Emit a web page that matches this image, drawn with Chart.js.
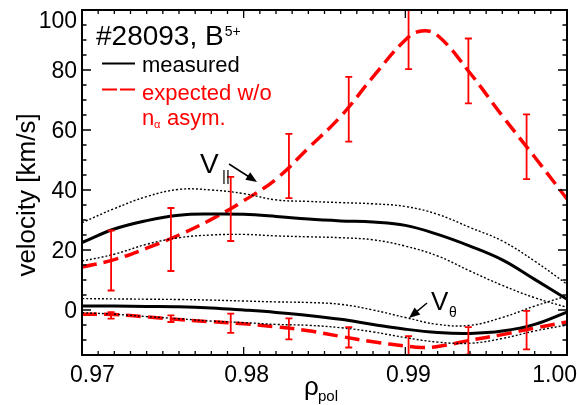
<!DOCTYPE html>
<html>
<head>
<script src="https://cdn.jsdelivr.net/npm/chart.js@4.4.0/dist/chart.umd.min.js"></script>
<style>
  html, body { margin: 0; padding: 0; background: #fff; }
  #wrap { width: 577px; height: 405px; }
</style>
</head>
<body>
<div id="wrap"><canvas id="velChart"></canvas></div>
<script>
// rho_pol grid of the measured profiles
var rhoGrid = [0.970, 0.972, 0.974, 0.976, 0.978, 0.980, 0.982, 0.984, 0.986, 0.988, 0.990, 0.992, 0.994, 0.996, 0.998, 1.000];

// measured v_par (solid) and its uncertainty band (dotted)
var vParMeas = [22.5, 27.0, 29.8, 31.6, 32.0, 31.9, 31.2, 30.3, 29.7, 29.3, 28.2, 25.2, 21.3, 16.7, 10.2, 3.6];
var vParHi   = [29.1, 33.8, 37.8, 40.2, 40.0, 38.8, 36.7, 36.2, 35.8, 35.4, 34.5, 31.9, 27.5, 23.0, 16.3, 8.6];
var vParLo   = [16.3, 18.6, 21.9, 24.1, 25.0, 25.2, 24.7, 24.4, 24.1, 23.4, 21.3, 18.0, 13.0, 8.2, 4.1, 0.9];

// measured v_theta (solid) and band (dotted)
var vThMeas = [1.3, 1.3, 1.2, 1.1, 0.7, 0.0, -0.8, -1.8, -3.1, -4.8, -6.4, -7.5, -7.8, -7.0, -4.8, -0.7];
var vThHi   = [3.8, 3.7, 3.6, 3.5, 3.3, 3.0, 2.7, 2.5, 1.9, 0.0, -2.5, -4.8, -5.1, -2.5, 1.3, 4.7];
var vThLo   = [-0.9, -1.4, -2.2, -2.9, -3.7, -4.2, -4.8, -5.1, -5.9, -7.3, -9.2, -10.7, -11.1, -9.5, -7.0, -5.0];

// expected profiles without n_alpha asymmetry (red dashed)
var rhoExp    = [0.970, 0.972, 0.974, 0.976, 0.978, 0.980, 0.982, 0.984, 0.986, 0.988, 0.990, 0.991, 0.992, 0.994, 0.996, 0.998, 1.000];
var vParExp   = [14.3, 16.8, 20.6, 25.0, 30.2, 36.4, 43.6, 54.0, 64.5, 77.7, 90.0, 93.0, 91.5, 79.0, 64.7, 51.0, 37.0];
var vThExp    = [-1.4, -1.5, -2.3, -3.2, -3.9, -4.6, -5.6, -6.9, -8.8, -10.6, -12.0, -12.5, -12.2, -10.1, -8.2, -6.0, -4.0];

// points with error bars
var rhoErr     = [0.9718, 0.9755, 0.9792, 0.9828, 0.9865, 0.9902, 0.9939, 0.9975];
var vParPts    = [16.5, 23.5, 33.7, 48.0, 66.9, 91.3, 79.7, 54.4];
var vParPtsErr = [10.0, 10.5, 10.7, 10.7, 10.8, 11.0, 10.8, 10.8];
var vThPts     = [-1.8, -2.9, -4.4, -6.3, -9.1, -12.0, -10.3, -6.7];
var vThPtsErr  = [1.1, 1.1, 3.2, 3.5, 3.4, 3.3, 4.6, 6.4];

// axes
var xTicks = [0.97, 0.98, 0.99, 1.00];
var xTickLabels = ['0.97', '0.98', '0.99', '1.00'];
var yTicks = [0, 20, 40, 60, 80, 100];

var FONT = '"Liberation Sans", Arial, Helvetica, sans-serif';
var RED = '#ff0000';

function pts(xs, ys) {
    return xs.map(function(x, i) { return { x: x, y: ys[i] }; });
}

function solid(data, color, width) {
    return { data: data, borderColor: color, borderWidth: width, pointRadius: 0, fill: false,
             tension: 0.4 };
}
function dotted(data) {
    var d = solid(data, '#000', 1.4);
    d.borderDash = [2, 2];
    return d;
}
function dashed(data) {
    var d = solid(data, RED, 3.5);
    d.borderDash = [15, 7];
    return d;
}

function arrow(ctx, x1, y1, x2, y2) {
    var a = Math.atan2(y2 - y1, x2 - x1);
    ctx.beginPath();
    ctx.moveTo(x1, y1);
    ctx.lineTo(x2 - 6 * Math.cos(a), y2 - 6 * Math.sin(a));
    ctx.stroke();
    ctx.beginPath();
    ctx.moveTo(x2, y2);
    ctx.lineTo(x2 - 11 * Math.cos(a) + 4.5 * Math.sin(a), y2 - 11 * Math.sin(a) - 4.5 * Math.cos(a));
    ctx.lineTo(x2 - 11 * Math.cos(a) - 4.5 * Math.sin(a), y2 - 11 * Math.sin(a) + 4.5 * Math.cos(a));
    ctx.closePath();
    ctx.fill();
}

var idlAxes = {
    id: 'idlAxes',
    afterDatasetsDraw: function(chart) {
        var ctx = chart.ctx, xs = chart.scales.x, ys = chart.scales.y, area = chart.chartArea;
        ctx.save();
        ctx.strokeStyle = RED;
        ctx.lineWidth = 1.8;
        function bar(x, v, e) {
            var px = xs.getPixelForValue(x);
            var top = ys.getPixelForValue(v + e), bot = ys.getPixelForValue(v - e);
            var t = Math.max(top, area.top), b = Math.min(bot, area.bottom);
            ctx.beginPath();
            ctx.moveTo(px, t); ctx.lineTo(px, b);
            if (top >= area.top) { ctx.moveTo(px - 3.5, top); ctx.lineTo(px + 3.5, top); }
            if (bot <= area.bottom) { ctx.moveTo(px - 3.5, bot); ctx.lineTo(px + 3.5, bot); }
            ctx.stroke();
        }
        for (var i = 0; i < rhoErr.length; i++) {
            bar(rhoErr[i], vParPts[i], vParPtsErr[i]);
            bar(rhoErr[i], vThPts[i], vThPtsErr[i]);
        }
        ctx.restore();
    },
    afterDraw: function(chart) {
        var ctx = chart.ctx, xs = chart.scales.x, ys = chart.scales.y, a = chart.chartArea;
        ctx.save();
        ctx.strokeStyle = '#000';
        ctx.fillStyle = '#000';
        ctx.lineWidth = 2;
        ctx.strokeRect(a.left, a.top, a.right - a.left, a.bottom - a.top);

        // inward ticks on all four sides
        ctx.lineWidth = 1.3;
        ctx.beginPath();
        for (var k = 0; k <= 30; k++) {
            var px = xs.getPixelForValue(0.97 + k * 0.001);
            var len = (k % 10 === 0) ? 8 : 4;
            ctx.moveTo(px, a.bottom); ctx.lineTo(px, a.bottom - len);
            ctx.moveTo(px, a.top); ctx.lineTo(px, a.top + len);
        }
        for (var v = -15; v <= 100; v += 5) {
            var py = ys.getPixelForValue(v);
            var l = (v % 20 === 0) ? 9 : 4.5;
            ctx.moveTo(a.left, py); ctx.lineTo(a.left + l, py);
            ctx.moveTo(a.right, py); ctx.lineTo(a.right - l, py);
        }
        ctx.stroke();

        // tick labels
        ctx.font = '23px ' + FONT;
        ctx.textBaseline = 'alphabetic';
        ctx.textAlign = 'center';
        xTicks.forEach(function(t, i) {
            var w = ctx.measureText(xTickLabels[i]).width;
            var cx = xs.getPixelForValue(t) + 3;
            cx = Math.max(cx, 70 + w / 2);
            cx = Math.min(cx, chart.width - w / 2);
            ctx.fillText(xTickLabels[i], cx, 381.5);
        });
        ctx.textAlign = 'right';
        yTicks.forEach(function(t) {
            var py = ys.getPixelForValue(t) + 8.2;
            py = Math.max(py, a.top + 18);
            ctx.fillText(String(t), a.left - 5, py);
        });

        // axis titles
        ctx.save();
        ctx.translate(35, 195);
        ctx.rotate(-Math.PI / 2);
        ctx.textAlign = 'center';
        ctx.font = '26px ' + FONT;
        ctx.fillText('velocity [km/s]', 0, 0);
        ctx.restore();

        ctx.textAlign = 'left';
        ctx.font = '26px ' + FONT;
        ctx.fillText('\u03c1', 304, 395);
        ctx.font = '15px ' + FONT;
        ctx.fillText('pol', 318, 401);

        // legend block
        ctx.font = '28px ' + FONT;
        ctx.fillText('#28093, B', 96, 45);
        var tw = ctx.measureText('#28093, B').width;
        ctx.font = '14px ' + FONT;
        ctx.fillText('5+', 96 + tw + 1, 36);

        ctx.font = '22px ' + FONT;
        ctx.fillText('measured', 142, 72);
        ctx.lineWidth = 2;
        ctx.beginPath();
        ctx.moveTo(102, 63.5); ctx.lineTo(135, 63.5);
        ctx.stroke();

        ctx.fillStyle = RED;
        ctx.strokeStyle = RED;
        ctx.fillText('expected w/o', 142, 100);
        ctx.beginPath();
        ctx.moveTo(102, 89.5); ctx.lineTo(117, 89.5);
        ctx.moveTo(120, 89.5); ctx.lineTo(135, 89.5);
        ctx.stroke();
        ctx.fillText('n', 142, 125);
        ctx.font = '11px ' + FONT;
        ctx.fillText('\u03b1', 154, 128);
        ctx.font = '22px ' + FONT;
        ctx.fillText('asym.', 167, 125);

        // curve annotations
        ctx.fillStyle = '#000';
        ctx.strokeStyle = '#000';
        ctx.font = '28px ' + FONT;
        ctx.fillText('V', 200, 173);
        ctx.font = '15px ' + FONT;
        ctx.fillText('||', 222, 181);
        ctx.lineWidth = 1.5;
        arrow(ctx, 229, 164, 257, 182);

        ctx.font = '26px ' + FONT;
        ctx.fillText('V', 431, 310);
        ctx.font = '14px ' + FONT;
        ctx.fillText('\u03b8', 449, 317);
        arrow(ctx, 427, 303, 409, 318);

        ctx.restore();
    }
};

new Chart(document.getElementById('velChart'), {
    type: 'line',
    data: {
        datasets: [
            dotted(pts(rhoGrid, vParHi)),
            dotted(pts(rhoGrid, vParLo)),
            dotted(pts(rhoGrid, vThHi)),
            dotted(pts(rhoGrid, vThLo)),
            solid(pts(rhoGrid, vParMeas), '#000', 3),
            solid(pts(rhoGrid, vThMeas), '#000', 3),
            dashed(pts(rhoExp, vParExp)),
            dashed(pts(rhoExp, vThExp))
        ]
    },
    options: {
        responsive: true,
        maintainAspectRatio: false,
        animation: false,
        devicePixelRatio: 1,
        layout: { padding: { left: 82, right: 10, top: 10, bottom: 50 } },
        plugins: { legend: { display: false }, tooltip: { enabled: false } },
        scales: {
            x: { type: 'linear', min: 0.97, max: 1.0, display: false },
            y: { type: 'linear', min: -15, max: 100, display: false }
        }
    },
    plugins: [idlAxes]
});
</script>
</body>
</html>
